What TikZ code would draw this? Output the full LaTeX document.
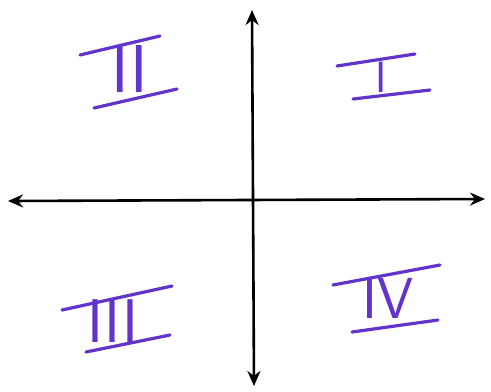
\documentclass[tikz,border=0pt]{standalone}
\usepackage{fontspec}
\usetikzlibrary{arrows.meta}

\definecolor{quadpurple}{RGB}{98,52,204}
\tikzset{
  axisline/.style={line width=2.6bp, black,
    {Stealth[length=15bp,width=13bp]}-{Stealth[length=15bp,width=13bp]}},
  numeral/.style={text=quadpurple, inner sep=0pt, font=\sffamily},
  numbar/.style={quadpurple, line width=3.2bp, line cap=round}
}

\begin{document}
\begin{tikzpicture}[x=1bp,y=-1bp]
    \useasboundingbox (0,0) rectangle (491,391);

    % Axes
    \coordinate (west) at (8,201);
    \coordinate (east) at (485,199);
    \coordinate (north) at (252,10);
    \coordinate (south) at (254,386);
    \draw[axisline] (west) -- (east);
    \draw[axisline] (north) -- (south);

    % Quadrant II
    \node[numeral, font=\sffamily\fontsize{68}{68}\selectfont] (quadII) at (130,69) {II};
    \draw[numbar] (80,55) -- (160,36);
    \draw[numbar] (94,108) -- (177,89);

    % Quadrant I
    \node[numeral, font=\sffamily\fontsize{44}{44}\selectfont] (quadI) at (381,77) {I};
    \draw[numbar] (337,66) -- (415,54);
    \draw[numbar] (353,99) -- (430,90);

    % Quadrant III
    \node[numeral, font=\sffamily\fontsize{62}{62}\selectfont] (quadIII) at (113,321) {III};
    \draw[numbar] (62,310) -- (172,286);
    \draw[numbar] (86,352) -- (170,335);

    % Quadrant IV
    \node[numeral, font=\sffamily\fontsize{58}{58}\selectfont] (quadIV) at (388,298) {IV};
    \draw[numbar] (333,285) -- (440,265);
    \draw[numbar] (352,332) -- (438,320);
\end{tikzpicture}
\end{document}
